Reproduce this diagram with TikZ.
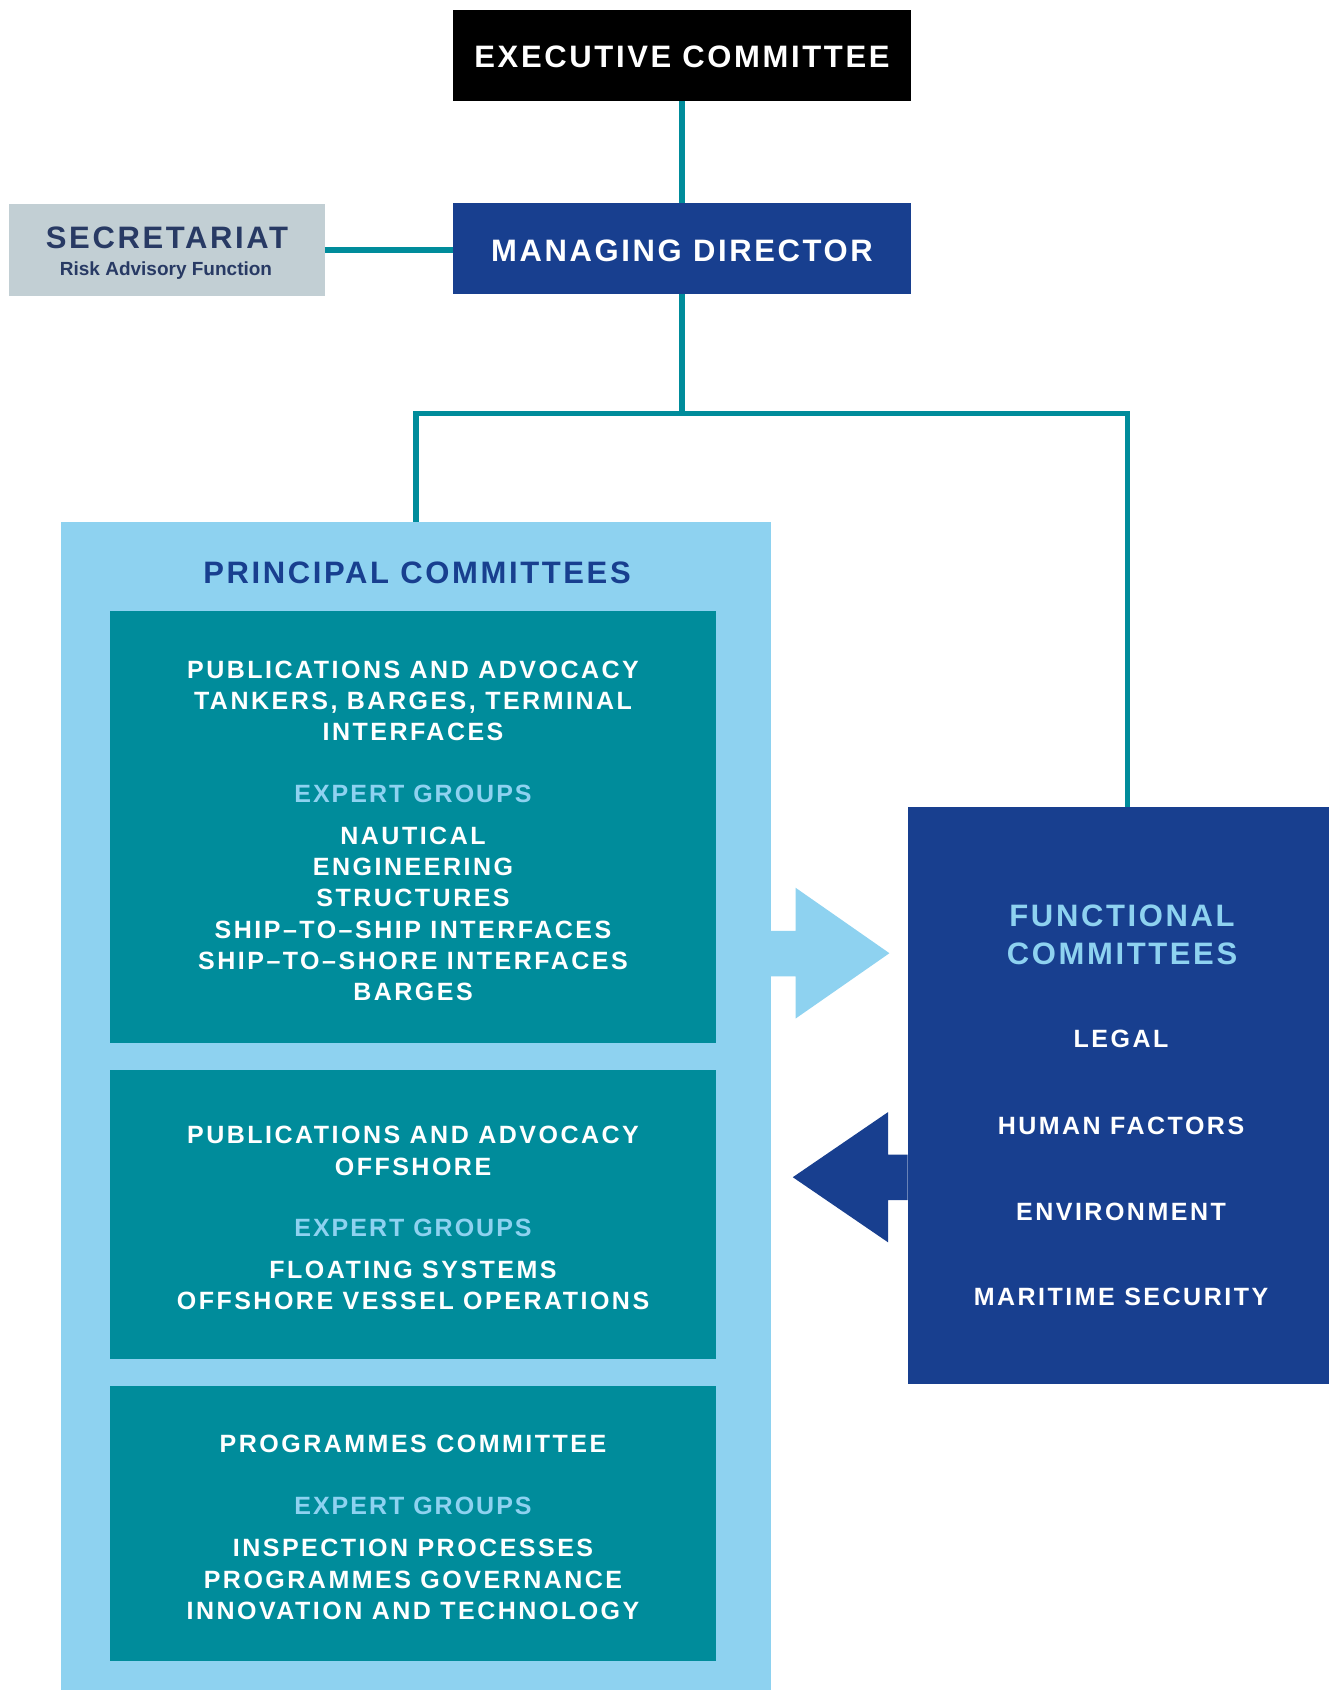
\documentclass[tikz,border=0pt]{standalone}
\usepackage{fontspec}
\setmainfont{Liberation Sans}
\newfontfamily\titfont[LetterSpace=8.5]{Liberation Sans}
\newfontfamily\bodfont[LetterSpace=10]{Liberation Sans}
\newfontfamily\expfont[LetterSpace=8]{Liberation Sans}
\newfontfamily\secfont{Liberation Sans}
\definecolor{tealc}{RGB}{0,140,155}
\definecolor{navyc}{RGB}{24,63,143}
\definecolor{lightc}{RGB}{142,210,240}
\definecolor{greyc}{RGB}{194,207,212}
\definecolor{sectext}{RGB}{40,58,100}
\begin{document}
\begin{tikzpicture}[x=1pt,y=-1pt,
  blk/.style={rectangle, inner sep=0pt, outer sep=0pt, draw=none},
  conn/.style={draw=tealc, line width=5.5pt, line join=miter},
  ttl/.style={inner sep=0pt, anchor=base, font=\titfont\bfseries\fontsize{31}{37}\selectfont},
  bod/.style={inner sep=0pt, anchor=base, text=white, font=\bodfont\bfseries\fontsize{25}{30}\selectfont},
  exg/.style={inner sep=0pt, anchor=base, text=lightc, font=\expfont\bfseries\fontsize{25}{30}\selectfont}]
\useasboundingbox (0,0) rectangle (1329,1690);
\fill[white] (0,0) rectangle (1329,1690);

% top boxes
\node[blk, fill=black, minimum width=458, minimum height=91.6] (exec) at (681.75,55.5) {};
\node[ttl, text=white] (execT) at (682,67.1) {EXECUTIVE COMMITTEE};
\node[blk, fill=navyc, minimum width=458, minimum height=91.7] (md) at (681.75,248.5) {};
\node[ttl, text=white] (mdT) at (682,261.1) {MANAGING DIRECTOR};
\node[blk, fill=greyc, minimum width=316, minimum height=92] (sec) at (166.5,250) {};
\node[ttl, text=sectext] (sect) at (167,248.4) {SECRETARIAT};
\node[inner sep=0pt, anchor=base, text=sectext, font=\secfont\bfseries\fontsize{19}{23}\selectfont] (secs) at (166,275.5) {Risk Advisory Function};

% principal committees
\node[blk, fill=lightc, minimum width=709.3, minimum height=1168.3] (pc) at (416.05,1105.85) {};
\node[ttl, text=navyc] (pct) at (417,583.3) {PRINCIPAL COMMITTEES};
\node[blk, fill=tealc, minimum width=605.7, minimum height=432.2] (t1) at (412.85,827.3) {};
\node[blk, fill=tealc, minimum width=605.7, minimum height=288.8] (t2) at (412.85,1214.8) {};
\node[blk, fill=tealc, minimum width=605.7, minimum height=274.8] (t3) at (412.85,1523.6) {};

\node[bod] (a1) at (413,678.3) {PUBLICATIONS AND ADVOCACY};
\node[bod] (a2) at (413,709.6) {TANKERS, BARGES, TERMINAL};
\node[bod] (a3) at (413,740.8) {INTERFACES};
\node[exg] (a4) at (413,802.2) {EXPERT GROUPS};
\node[bod] (a5) at (413,844.3) {NAUTICAL};
\node[bod] (a6) at (413,875.5) {ENGINEERING};
\node[bod] (a7) at (413,906.8) {STRUCTURES};
\node[bod] (a8) at (413,938.0) {SHIP\textendash TO\textendash SHIP INTERFACES};
\node[bod] (a9) at (413,969.3) {SHIP\textendash TO\textendash SHORE INTERFACES};
\node[bod] (a10) at (413,1000.5) {BARGES};

\node[bod] (b1) at (413,1143.9) {PUBLICATIONS AND ADVOCACY};
\node[bod] (b2) at (413,1175.2) {OFFSHORE};
\node[exg] (b3) at (413,1236.6) {EXPERT GROUPS};
\node[bod] (b4) at (413,1278.7) {FLOATING SYSTEMS};
\node[bod] (b5) at (413,1309.9) {OFFSHORE VESSEL OPERATIONS};

\node[bod] (c1) at (413,1452.2) {PROGRAMMES COMMITTEE};
\node[exg] (c2) at (413,1514.7) {EXPERT GROUPS};
\node[bod] (c3) at (413,1556.8) {INSPECTION PROCESSES};
\node[bod] (c4) at (413,1588.0) {PROGRAMMES GOVERNANCE};
\node[bod] (c5) at (413,1619.3) {INNOVATION AND TECHNOLOGY};

% functional committees
\node[blk, fill=navyc, minimum width=421.4, minimum height=576.6] (fc) at (1118.3,1095.7) {};
\node[ttl, text=lightc] (f1) at (1122,926.2) {FUNCTIONAL};
\node[ttl, text=lightc] (f2) at (1122,964.0) {COMMITTEES};
\node[bod] (f3) at (1121,1047.9) {LEGAL};
\node[bod] (f4) at (1121,1134.2) {HUMAN FACTORS};
\node[bod] (f5) at (1121,1220.5) {ENVIRONMENT};
\node[bod] (f6) at (1121,1305.6) {MARITIME SECURITY};

% block arrows
\fill[lightc] (770.7,930.8) -- (795.5,930.8) -- (795.5,887.7) -- (889.4,953.2)
  -- (795.5,1018.6) -- (795.5,976.3) -- (770.7,976.3) -- cycle;
\fill[navyc] (907.6,1154.7) -- (888.2,1154.7) -- (888.2,1112) -- (792.8,1177.2)
  -- (888.2,1242.4) -- (888.2,1200.2) -- (907.6,1200.2) -- cycle;

% connectors
\coordinate (jn) at (681.75,413.5);
\coordinate (jr) at (1127.7,413.5);
\draw[conn] (exec.south) -- (md.north);
\draw[conn] (sec.east) -- (sec.east -| md.west);
\draw[conn] (md.south) -- (jn);
\draw[conn] (pc.north) |- (jr) -- (jr |- fc.north);
\end{tikzpicture}
\end{document}
